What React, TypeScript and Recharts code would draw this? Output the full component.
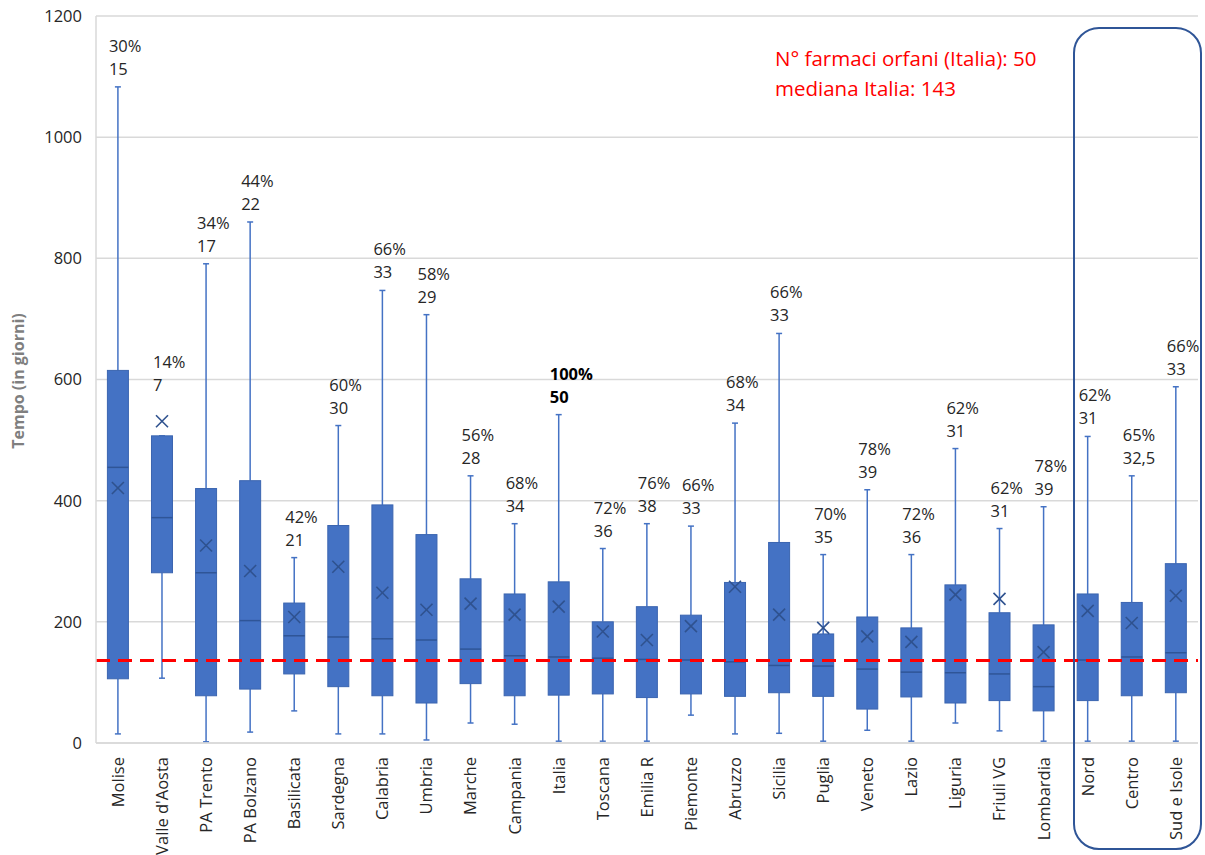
import React from "react";
import {
  BarChart,
  Bar,
  XAxis,
  YAxis,
  CartesianGrid,
  ReferenceLine,
} from "recharts";

const categories = [
  "Molise", "Valle d'Aosta", "PA Trento", "PA Bolzano", "Basilicata", "Sardegna",
  "Calabria", "Umbria", "Marche", "Campania", "Italia", "Toscana", "Emilia R",
  "Piemonte", "Abruzzo", "Sicilia", "Puglia", "Veneto", "Lazio", "Liguria",
  "Friuli VG", "Lombardia", "Nord", "Centro", "Sud e Isole",
];

const whiskerLow = [15, 107, 2, 18, 53, 15, 15, 5, 33, 31, 3, 3, 3, 46, 15, 16, 3, 21, 3, 33, 20, 3, 3, 3, 3];
const q1 = [106, 281, 78, 89, 114, 93, 78, 66, 98, 78, 79, 81, 75, 81, 77, 83, 77, 56, 76, 66, 70, 53, 70, 78, 83];
const median = [455, 372, 281, 202, 177, 175, 172, 170, 155, 144, 142, 140, 138, 137, 134, 128, 127, 122, 117, 116, 114, 93, 137, 142, 149];
const q3 = [615, 507, 420, 433, 231, 359, 393, 344, 271, 246, 266, 200, 225, 211, 265, 331, 180, 208, 190, 261, 215, 195, 246, 232, 296];
const whiskerHigh = [1083, 507, 791, 860, 306, 524, 747, 707, 441, 362, 542, 321, 362, 358, 528, 676, 311, 418, 311, 486, 354, 390, 506, 441, 588];
const mean = [421, 531, 326, 284, 208, 291, 248, 220, 230, 212, 225, 184, 170, 193, 258, 212, 190, 176, 167, 245, 238, 150, 218, 198, 243];
const pctLabels = ["30%", "14%", "34%", "44%", "42%", "60%", "66%", "58%", "56%", "68%", "100%", "72%", "76%", "66%", "68%", "66%", "70%", "78%", "72%", "62%", "62%", "78%", "62%", "65%", "66%"];
const countLabels = ["15", "7", "17", "22", "21", "30", "33", "29", "28", "34", "50", "36", "38", "33", "34", "33", "35", "39", "36", "31", "31", "39", "31", "32,5", "33"];

const yTicks = [0, 200, 400, 600, 800, 1000, 1200];
const italiaMedianLine = 136;

const data = categories.map((name, i) => ({
  name,
  range: [whiskerLow[i], whiskerHigh[i]],
  low: whiskerLow[i],
  q1: q1[i],
  median: median[i],
  q3: q3[i],
  high: whiskerHigh[i],
  mean: mean[i],
  pct: pctLabels[i],
  count: countLabels[i],
}));

const FONT = "'Open Sans', 'Noto Sans', sans-serif";

function BoxShape(props: any) {
  const { x, y, width, height, payload } = props;
  if (x == null || y == null) return null;
  const top = Math.min(y, y + height);
  const h = Math.abs(height);
  const { low, high } = payload;
  const pv = (v: number) => top + ((high - v) / (high - low)) * h;
  const cx = x + width / 2;
  const bw = 21;
  const yQ1 = pv(payload.q1);
  const yQ3 = pv(payload.q3);
  const yMed = pv(payload.median);
  const yMean = pv(payload.mean);
  const yHigh = pv(high);
  const yLow = pv(low);
  const m = 6;
  const bold = payload.name === "Italia";
  const labelBase = payload.mean > high ? yMean - 30 : yHigh - 12;
  const txtStyle = {
    fontSize: 16.5,
    fontFamily: FONT,
    fontWeight: bold ? 700 : 400,
    fill: bold ? "#000" : "#262626",
  };
  return (
    <g>
      <line x1={cx} x2={cx} y1={yHigh} y2={yQ3} stroke="#4472c4" strokeWidth={1.5} />
      <line x1={cx} x2={cx} y1={yQ1} y2={yLow} stroke="#4472c4" strokeWidth={1.5} />
      <line x1={cx - 3} x2={cx + 3} y1={yHigh} y2={yHigh} stroke="#4472c4" strokeWidth={1.5} />
      <line x1={cx - 3} x2={cx + 3} y1={yLow} y2={yLow} stroke="#4472c4" strokeWidth={1.5} />
      <rect x={cx - bw / 2} y={yQ3} width={bw} height={yQ1 - yQ3} fill="#4472c4" stroke="#3b65b0" strokeWidth={1} />
      <line x1={cx - bw / 2} x2={cx + bw / 2} y1={yMed} y2={yMed} stroke="#2f5597" strokeWidth={1.5} />
      <line x1={cx - m} x2={cx + m} y1={yMean - m} y2={yMean + m} stroke="#2f528f" strokeWidth={1.6} />
      <line x1={cx - m} x2={cx + m} y1={yMean + m} y2={yMean - m} stroke="#2f528f" strokeWidth={1.6} />
      <text x={cx - 9} y={labelBase - 23} {...txtStyle}>
        {payload.pct}
      </text>
      <text x={cx - 9} y={labelBase} {...txtStyle}>
        {payload.count}
      </text>
    </g>
  );
}

function CategoryTick(props: any) {
  const { x, y, payload } = props;
  return (
    <g transform={`translate(${x},${y + 14})`}>
      <text
        transform="rotate(-90)"
        textAnchor="end"
        dy="0.35em"
        fontSize={16.5}
        fontFamily={FONT}
        fill="#262626"
      >
        {payload.value}
      </text>
    </g>
  );
}

export default function App() {
  return (
    <div style={{ position: "relative", width: 1205, height: 855, background: "#fff", overflow: "hidden" }}>
      <style>{`body{margin:0}`}</style>
      <BarChart
        width={1205}
        height={855}
        data={data}
        margin={{ top: 16, right: 7, left: 0, bottom: 0 }}
      >
        <CartesianGrid vertical={false} stroke="#d9d9d9" strokeWidth={1.5} />
        <XAxis
          dataKey="name"
          interval={0}
          height={112}
          tickLine={false}
          tickSize={0}
          tickMargin={0}
          axisLine={{ stroke: "#d9d9d9", strokeWidth: 1.5 }}
          tick={<CategoryTick />}
        />
        <YAxis
          type="number"
          domain={[0, 1200]}
          ticks={yTicks}
          interval={0}
          width={96}
          tickLine={false}
          tickSize={0}
          tickMargin={14}
          axisLine={{ stroke: "#d9d9d9", strokeWidth: 1.5 }}
          tick={{ fontSize: 16.5, fontFamily: FONT, fill: "#262626" }}
        />
        <Bar dataKey="range" shape={<BoxShape />} isAnimationActive={false} />
        <ReferenceLine
          y={italiaMedianLine}
          stroke="#ff0000"
          strokeWidth={3}
          strokeDasharray="14 8"
        />
      </BarChart>
      <div
        style={{
          position: "absolute",
          left: 18,
          top: 381,
          transform: "translate(-50%, -50%) rotate(-90deg)",
          whiteSpace: "nowrap",
          fontFamily: FONT,
          fontWeight: 700,
          fontSize: 16,
          color: "#7f7f7f",
        }}
      >
        Tempo (in giorni)
      </div>
      <div
        style={{
          position: "absolute",
          left: 775,
          top: 43,
          fontFamily: FONT,
          fontSize: 20.5,
          lineHeight: "30px",
          color: "#ff0000",
          whiteSpace: "nowrap",
        }}
      >
        <div>N° farmaci orfani (Italia): 50</div>
        <div>mediana Italia: 143</div>
      </div>
      <div
        style={{
          position: "absolute",
          left: 1073,
          top: 27,
          width: 129,
          height: 823,
          boxSizing: "border-box",
          border: "2px solid #2f5597",
          borderRadius: 26,
          pointerEvents: "none",
        }}
      />
    </div>
  );
}
